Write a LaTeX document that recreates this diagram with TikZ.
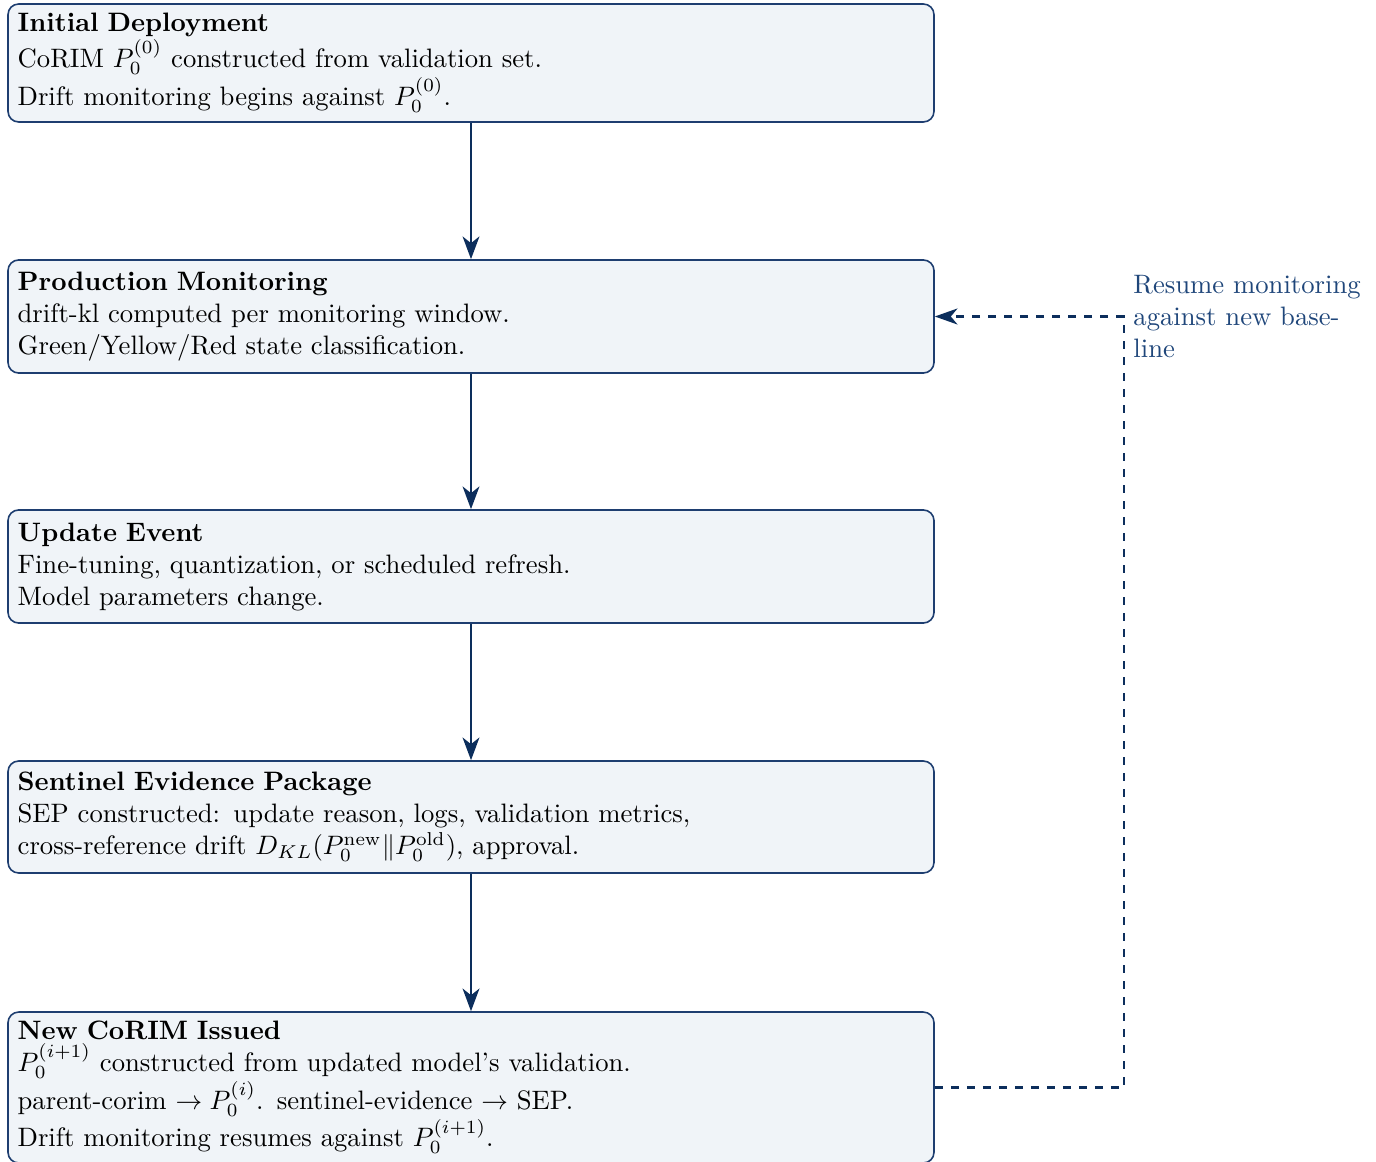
\documentclass[tikz,border=0pt]{standalone}
\usetikzlibrary{arrows.meta}
\definecolor{boxfill}{RGB}{240,244,248}
\definecolor{boxdraw}{RGB}{30,62,112}
\definecolor{arrowcol}{RGB}{12,46,92}
\definecolor{labelcol}{RGB}{31,70,122}
\begin{document}
\begin{tikzpicture}[x=0.375pt,y=-0.375pt,
  stagebox/.style={draw=boxdraw, fill=boxfill, line width=0.6pt, rounded corners=4pt,
    text width=340pt, align=left, minimum width=347.25pt, inner sep=3.33pt},
  flowarrow/.style={draw=arrowcol, line width=1pt, -{Stealth[length=8.5pt,width=6.3pt,inset=2.5pt]}},
  feedback/.style={draw=arrowcol, line width=0.8pt, dashed, -{Stealth[length=8.5pt,width=6pt,inset=2.5pt]}},
  fblabel/.style={text=labelcol, align=left, anchor=west, inner sep=3.33pt}]
\useasboundingbox (0,0) rectangle (1376,1162);
\node[stagebox, minimum height=44.25pt] (b1) at (471,63)
  {\textbf{Initial Deployment}\\CoRIM $P_0^{(0)}$ constructed from validation set.\\Drift monitoring begins against $P_0^{(0)}$.};
\node[stagebox, minimum height=42.4pt] (b2) at (471,316.5)
  {\textbf{Production Monitoring}\\drift-kl computed per monitoring window.\\Green/Yellow/Red state classification.};
\node[stagebox, minimum height=42.4pt] (b3) at (471,566.5)
  {\textbf{Update Event}\\Fine-tuning, quantization, or scheduled refresh.\\Model parameters change.};
\node[stagebox, minimum height=42pt] (b4) at (471,817)
  {\textbf{Sentinel Evidence Package}\\SEP constructed: update reason, logs, validation metrics,\\cross-reference drift $D_{KL}(P_0^{\mathrm{new}}\|P_0^{\mathrm{old}})$, approval.};
\node[stagebox, minimum height=56.6pt] (b5) at (471,1087.5)
  {\textbf{New CoRIM Issued}\\$P_0^{(i+1)}$ constructed from updated model's validation.\\parent-corim $\rightarrow P_0^{(i)}$. sentinel-evidence $\rightarrow$ SEP.\\Drift monitoring resumes against $P_0^{(i+1)}$.};
\draw[flowarrow] (b1.south) -- (b2.north);
\draw[flowarrow] (b2.south) -- (b3.north);
\draw[flowarrow] (b3.south) -- (b4.north);
\draw[flowarrow] (b4.south) -- (b5.north);
\coordinate (c1) at (1124,1087.5);
\coordinate (c2) at (1124,316.5);
\draw[feedback] (b5.east) -- (c1) -- (c2) -- (b2.east);
\node[fblabel] (lbl) at (c2) {Resume monitoring\\against new base-\\line};
\end{tikzpicture}
\end{document}
